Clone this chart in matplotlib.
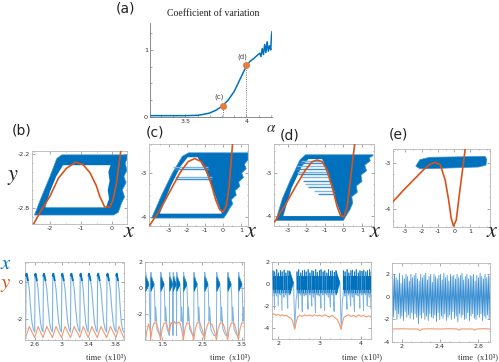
import numpy as np
import matplotlib
matplotlib.use("Agg")
import matplotlib.pyplot as plt
from matplotlib.ticker import MultipleLocator

plt.rcParams['axes.unicode_minus'] = False
plt.rcParams['mathtext.fontset'] = 'stix'

BLUE = '#0072BD'
LBLUE = '#7db4e2'
MBLUE = '#3a8fd2'
ORANGE = '#D95319'
LORANGE = '#f09a74'

# ---------------- data ----------------
# (a) coefficient of variation
cv_alpha = [3.21, 3.5, 3.6, 3.65, 3.7, 3.75, 3.8, 3.85, 3.9, 3.95, 4.0, 4.03, 4.06, 4.09,
            4.11, 4.12, 4.13, 4.14, 4.15, 4.16, 4.17, 4.18, 4.19, 4.2, 4.205, 4.21]
cv_value = [0.02, 0.02, 0.025, 0.04, 0.06, 0.1, 0.16, 0.25, 0.38, 0.57, 0.76, 0.83, 0.87, 0.92,
            0.95, 0.9, 1.02, 0.93, 1.08, 0.96, 1.12, 0.98, 1.06, 1.0, 1.2, 1.27]
mark_alpha = [3.81, 4.0]
mark_cv = [0.17, 0.77]
mark_labels = ['(c)', '(d)']

# nullclines (orange curves) of the phase portraits
b_null_x = [-2.53, -2.27, -2.0, -1.73, -1.47, -1.17, -0.93, -0.71, -0.5, -0.4, -0.24, -0.07, 0.03, 0.14, 0.21, 0.28]
b_null_y = [-2.98, -2.82, -2.67, -2.47, -2.36, -2.29, -2.32, -2.41, -2.56, -2.67, -2.79, -2.79, -2.71, -2.53, -2.34, -2.17]
c_null_x = [-4.09, -3.5, -2.94, -2.39, -1.93, -1.56, -1.19, -0.91, -0.63, -0.39, -0.17, 0.02, 0.2, 0.35, 0.44, 0.54]
c_null_y = [-4.2, -3.84, -3.42, -3.0, -2.74, -2.67, -2.74, -2.93, -3.27, -3.61, -3.83, -3.88, -3.73, -3.31, -2.86, -2.34]
d_null_x = [-3.71, -3.14, -2.59, -2.05, -1.69, -1.42, -1.15, -0.88, -0.61, -0.34, -0.16, 0.02, 0.2, 0.38, 0.5, 0.61]
d_null_y = [-4.13, -3.74, -3.32, -2.93, -2.74, -2.7, -2.74, -2.93, -3.32, -3.78, -3.99, -4.02, -3.78, -3.16, -2.7, -2.33]
e_null_x = [-3.75, -3.1, -2.49, -1.88, -1.47, -1.16, -0.85, -0.55, -0.34, -0.18, -0.04, 0.13, 0.33, 0.54, 0.68]
e_null_y = [-3.84, -3.59, -3.37, -3.15, -3.03, -2.99, -3.04, -3.37, -3.8, -4.2, -4.37, -4.24, -3.66, -3.08, -2.7]

# blue trajectory regions (outline, hole)
b_outer_x = [-2.5, 0.05, 0.2, 0.3, 0.4, 0.33, 0.45, 0.38, 0.48, 0.42, 0.48, 0.48, -1.62, -1.78, -2.0, -2.3, -2.5]
b_outer_y = [-2.88, -2.88, -2.85, -2.75, -2.68, -2.6, -2.52, -2.45, -2.38, -2.3, -2.26, -2.21, -2.21, -2.25, -2.45, -2.7, -2.88]
b_hole_x = [-2.15, -0.2, -0.1, -0.14, -0.08, -0.12, -0.05, -1.58, -1.8, -2.0, -2.15]
b_hole_y = [-2.795, -2.795, -2.7, -2.6, -2.5, -2.4, -2.325, -2.325, -2.45, -2.62, -2.795]

c_outer_x = [-3.95, 0.05, 0.25, 0.38, 0.55, 0.48, 0.75, 0.68, 0.95, 0.88, 1.15, 1.05, 1.3, 1.2, 1.4, 1.4, -1.9, -2.25, -2.8, -3.4, -3.95]
c_outer_y = [-4.02, -4.02, -3.9, -3.8, -3.7, -3.6, -3.5, -3.4, -3.3, -3.2, -3.1, -3.0, -2.9, -2.8, -2.7, -2.54, -2.54, -2.62, -3.0, -3.5, -4.02]
c_hole_x = [-3.5, -0.05, -0.3, -0.6, -1.0, -1.4, -1.95, -2.35, -2.9, -3.5]
c_hole_y = [-3.92, -3.92, -3.65, -3.3, -2.92, -2.64, -2.64, -2.85, -3.3, -3.92]
c_streak_y = [-2.87, -2.91, -3.09, -3.13]
c_streak_x0 = [-2.78, -2.72, -2.67, -2.6]
c_streak_x1 = [-0.8, -0.75, -0.6, -0.58]

d_outer_x = [-3.65, 0.0, 0.2, 0.35, 0.5, 0.45, 0.75, 0.7, 1.0, 0.95, 1.25, 1.15, 1.45, 1.4, 1.6, 1.6, -2.05, -2.35, -2.9, -3.3, -3.65]
d_outer_y = [-4.1, -4.1, -3.95, -3.85, -3.7, -3.55, -3.45, -3.3, -3.2, -3.05, -2.95, -2.82, -2.72, -2.65, -2.6, -2.58, -2.58, -2.7, -3.2, -3.6, -4.1]
d_hole_x = [-3.25, -0.1, -0.4, -0.75, -1.05, -1.15, -1.9, -2.25, -2.8, -3.25]
d_hole_y = [-4.0, -4.0, -3.65, -3.2, -2.8, -2.68, -2.68, -2.85, -3.35, -4.0]
d_streak_y = [-2.72, -2.78, -2.85, -2.9, -2.97, -3.03, -3.1, -3.18, -3.25, -3.33, -3.42, -3.5]
d_streak_x0 = [-2.3, -2.4, -2.5, -2.55, -2.5, -2.45, -2.35, -2.2, -2.05, -1.9, -1.6, -1.4]
d_streak_x1 = [-1.1, -1.05, -1.0, -0.95, -0.9, -0.85, -0.8, -0.75, -0.7, -0.6, -0.5, -0.45]

e_band_x = [-2.35, -2.1, -1.5, 1.9, 2.0, 1.95, 1.5, -1.0, -2.1, -2.35]
e_band_y = [-3.07, -2.93, -2.88, -2.86, -2.92, -3.05, -3.09, -3.12, -3.13, -3.07]

# time series (b): regular relaxation spikes
b_spike_t = [2.325, 2.46, 2.595, 2.72, 2.86, 2.995, 3.13, 3.27, 3.395, 3.53, 3.67, 3.81, 3.925]
b_shape_phase = [0.0, 0.04, 0.1, 0.25, 0.4, 0.55, 0.7, 0.85, 1.0]
b_shape_x = [-2.7, 0.35, 0.45, 0.1, -0.4, -1.4, -2.2, -2.55, -2.7]
b_shape_yphase = [0.0, 0.4, 1.0]
b_shape_y = [-3.0, -2.4, -3.0]

# time series (c): bursts
c_event_t = [0.95, 1.08, 1.21, 1.46, 1.68, 1.77, 1.86, 2.03, 2.29, 2.56, 2.86, 3.14, 3.41, 3.68]
c_tpl_dt = [0.0, 0.008, 0.016, 0.026, 0.036, 0.046, 0.058, 0.07, 0.085, 0.1, 0.115, 0.13, 0.16, 0.2, 0.24]
c_tpl_x = [-3.7, 1.2, -0.1, 0.9, 0.0, 0.7, 0.1, 0.5, 0.25, -0.5, -2.6, -1.5, -3.2, -3.5, -3.7]
c_y_t = [1.07, 1.08, 1.12, 1.16, 1.2, 1.21, 1.25, 1.3, 1.36, 1.42, 1.46, 1.5, 1.55, 1.6, 1.65, 1.68,
         1.72, 1.77, 1.81, 1.86, 1.9, 1.95, 2.0, 2.03, 2.07, 2.12, 2.18, 2.25, 2.29, 2.33, 2.38, 2.45,
         2.52, 2.56, 2.6, 2.66, 2.74, 2.82, 2.86, 2.9, 2.96, 3.03, 3.1, 3.14, 3.18, 3.24, 3.31, 3.37,
         3.41, 3.45, 3.5, 3.55]
c_y_v = [-3.6, -4.05, -3.3, -2.8, -3.3, -4.05, -3.2, -2.7, -2.8, -3.4, -4.05, -3.2, -2.75, -2.7, -3.2, -3.5,
         -2.7, -2.85, -2.62, -2.85, -2.65, -2.75, -3.4, -4.05, -3.2, -2.7, -2.8, -3.5, -4.05, -3.2, -2.7, -2.75,
         -3.4, -4.05, -3.2, -2.7, -2.8, -3.5, -4.05, -3.2, -2.7, -2.8, -3.5, -4.05, -3.2, -2.7, -2.8, -3.5,
         -4.05, -3.2, -2.7, -2.75]

# time series (d): dense bursts with two deep dips
d_spike_t = [1.87, 1.91, 1.96, 2.0, 2.05, 2.09, 2.14, 2.18, 2.23, 2.27,
             2.45, 2.49, 2.54, 2.58, 2.63, 2.67, 2.72, 2.76, 2.81, 2.85, 2.9, 2.94, 2.99, 3.03,
             3.08, 3.12, 3.17, 3.21, 3.26, 3.3, 3.35, 3.39,
             3.57, 3.61, 3.66, 3.7, 3.75, 3.79, 3.84, 3.88, 3.93, 3.97, 4.02, 4.06, 4.11, 4.15, 4.2, 4.24]
d_spike_low = [-1.0, -2.3, -1.1, -2.0, -1.0, -2.4, -1.2, -1.0, -2.2, -1.0,
               -1.0, -2.2, -1.0, -2.5, -1.1, -1.0, -2.3, -1.0, -2.0, -1.2, -2.6, -1.0, -1.1, -2.2,
               -1.0, -2.4, -1.0, -1.2, -2.1, -1.0, -2.5, -1.0,
               -1.0, -1.1, -2.3, -1.0, -2.0, -1.2, -2.5, -1.0, -1.1, -2.2, -1.0, -2.4, -1.0, -2.0, -1.2, -2.3]
d_spike_high = [1.2, 1.1, 1.3, 1.0, 1.2, 1.1, 1.25, 1.0, 1.2, 1.15,
                1.1, 1.3, 1.0, 1.2, 1.25, 1.1, 1.3, 1.0, 1.2, 1.15, 1.3, 1.05, 1.2, 1.3,
                1.1, 1.2, 1.0, 1.3, 1.15, 1.2, 1.05, 1.2,
                1.2, 1.1, 1.3, 1.0, 1.2, 1.25, 1.1, 1.3, 1.0, 1.2, 1.15, 1.25, 1.1, 1.2, 1.3, 1.1]
d_dip_t = [2.40, 3.52]
d_dip_x = [-4.0, -4.1]
d_y_t = [1.85, 1.9, 1.95, 2.0, 2.05, 2.1, 2.15, 2.2, 2.25, 2.3, 2.34, 2.37, 2.4, 2.43, 2.47, 2.52,
         2.58, 2.64, 2.7, 2.76, 2.82, 2.88, 2.94, 3.0, 3.06, 3.12, 3.18, 3.24, 3.3, 3.36, 3.42, 3.46,
         3.49, 3.52, 3.55, 3.59, 3.64, 3.7, 3.76, 3.82, 3.88, 3.94, 4.0, 4.06, 4.12, 4.18, 4.24]
d_y_v = [-2.8, -2.7, -2.85, -2.75, -2.9, -2.8, -2.9, -2.85, -3.0, -3.1, -3.3, -3.7, -4.1, -3.5, -3.0, -2.85,
         -2.95, -2.8, -2.9, -2.82, -2.92, -2.8, -2.9, -2.85, -2.95, -2.8, -2.9, -3.0, -2.85, -3.05, -3.2, -3.5,
         -3.8, -4.1, -3.5, -3.0, -2.9, -2.8, -2.95, -2.85, -3.0, -2.8, -2.95, -2.85, -3.0, -2.9, -2.95]

# time series (e): irregular fast oscillation
e_x_vals = [-1.6, 1.9, -1.8, 2.0, -1.2, 1.7, -2.0, 1.5, -1.5, 2.1, -1.9, 1.2, -1.7, 1.9, -2.1, 1.6,
            -1.3, 2.0, -1.8, 1.8, -1.6, 1.4, -1.9, 2.0, -1.4, 1.7, -2.0, 1.9, -1.5, 2.1, -1.8, 1.6,
            -2.4, 1.4, -1.6, 2.0, -1.9, 1.7, -1.4, 1.9, -2.0, 2.1, -1.7, 1.5, -2.1, 1.8, -1.5, 2.0,
            -1.8, 1.3, -1.9, 2.0, -1.6, 1.8, -2.2, 1.6, -1.4, 1.9, -2.0, 2.0, -1.7, 1.5, -1.9, 2.1,
            -1.5, 1.7, -2.1, 1.9, -1.8, 1.4, -1.6, 2.0, -2.0, 1.8, -1.3, 1.9, -1.9, 1.6, -1.7, 2.0,
            -2.2, 1.7, -1.5, 1.9, -1.8, 2.1, -1.6, 1.5, -2.0, 1.8, -1.9, 2.0, -1.4, 1.6, -2.1, 1.9,
            -1.7, 1.8, -1.5, 2.0, -1.9, 1.4, -2.0, 1.9, -1.6, 1.7, -1.8, 2.1, -1.5, 1.8, -2.1, 1.6,
            -1.7, 2.0, -1.9, 1.7, -1.6, 1.9, -2.0, 1.8]
e_t_start, e_t_end = 1.9, 2.92
e_y_t = [1.9, 2.0, 2.1, 2.17, 2.19, 2.21, 2.3, 2.4, 2.5, 2.58, 2.6, 2.62, 2.7, 2.74, 2.76, 2.78, 2.85, 2.92]
e_y_v = [-2.85, -2.83, -2.85, -2.85, -3.0, -2.85, -2.83, -2.85, -2.82, -2.85, -2.95, -2.84, -2.85, -2.84, -2.95, -2.85, -2.82, -2.85]

# ---------------- figure ----------------
W, H = 499, 362
fig = plt.figure(figsize=(W / 100, H / 100), dpi=100)


def add_ax(l, r, t, b):
    return fig.add_axes([l / W, 1 - b / H, (r - l) / W, (b - t) / H])


def ftext(px, py, s, **kw):
    fig.text(px / W, 1 - py / H, s, ha='center', va='center', **kw)


def style_box(ax):
    for sp in ax.spines.values():
        sp.set_color('#b5b5b5')
        sp.set_linewidth(0.6)
    ax.tick_params(which='both', direction='in', top=True, right=True, width=0.4,
                   colors='#666666', labelcolor='#333333', labelsize=4.6, pad=1.5)
    ax.tick_params(which='major', length=2)
    ax.tick_params(which='minor', length=1)


# (a)
axa = add_ax(150, 272, 23, 117)
axa.plot(cv_alpha, cv_value, color=BLUE, lw=1.1, zorder=2)
for a, v in zip(mark_alpha, mark_cv):
    axa.plot([a, a], [0, v], ls=':', color='#555555', lw=0.6, zorder=1)
axa.plot(mark_alpha, mark_cv, 'o', color='#E87A3C', ms=4, zorder=3)
for a, v, s in zip(mark_alpha, mark_cv, mark_labels):
    axa.text(a - 0.03, v + 0.08, s, fontsize=5, color='#444444', ha='center', va='bottom')
axa.set_xlim(3.21, 4.21)
axa.set_ylim(0, 1.4)
axa.set_xticks([3.5, 4])
axa.set_xticklabels(['3.5', '4'])
axa.set_yticks([0, 1])
axa.set_yticklabels(['0', '1'])
axa.xaxis.set_minor_locator(MultipleLocator(0.1))
axa.yaxis.set_minor_locator(MultipleLocator(0.25))
for s in ['top', 'right']:
    axa.spines[s].set_visible(False)
for s in ['left', 'bottom']:
    axa.spines[s].set_color('#777777')
    axa.spines[s].set_linewidth(0.6)
axa.tick_params(which='both', direction='in', width=0.4, colors='#666666',
                labelcolor='#333333', labelsize=4.6, pad=1.5)
axa.tick_params(which='major', length=2.5)
axa.tick_params(which='minor', length=1.5)
ftext(126, 8, '(a)', fontsize=10, color='#222222')
ftext(213, 14, 'Coefficient of variation', fontsize=7, family='Liberation Serif', color='#222222')
ftext(271, 127, r'$\alpha$', fontsize=11, color='#333333')


def phase(ax, ox, oy, hx, hy, nx, ny, sy=None, s0=None, s1=None):
    ax.fill(ox, oy, color=BLUE, lw=0.5, ec=MBLUE, zorder=1)
    if hx is not None:
        ax.fill(hx, hy, color='white', lw=0, zorder=2)
    if sy is not None:
        for k, (yy, a0, a1) in enumerate(zip(sy, s0, s1)):
            ax.plot([a0, a1], [yy, yy], color=(MBLUE if k % 2 else LBLUE), lw=1.0, zorder=3,
                    solid_capstyle='butt')
    ax.plot(nx, ny, color=ORANGE, lw=1.2, zorder=4)
    style_box(ax)


# (b) phase
axb = add_ax(32, 127, 151, 224)
phase(axb, b_outer_x, b_outer_y, b_hole_x, b_hole_y, b_null_x, b_null_y)
axb.set_xlim(-2.58, 0.48)
axb.set_ylim(-2.98, -2.167)
axb.set_xticks([-2, -1, 0])
axb.set_yticks([-2.2, -2.8])
axb.set_yticklabels(['-2.2', '-2.8'])
axb.xaxis.set_minor_locator(MultipleLocator(0.5))
axb.yaxis.set_minor_locator(MultipleLocator(0.1))

# (c) phase
axc = add_ax(149, 248, 144, 226)
phase(axc, c_outer_x, c_outer_y, c_hole_x, c_hole_y, c_null_x, c_null_y,
      c_streak_y, c_streak_x0, c_streak_x1)
axc.set_xlim(-4.1, 1.4)
axc.set_ylim(-4.2, -2.34)
axc.set_xticks([-3, -2, -1, 0, 1])
axc.set_yticks([-3, -4])
axc.xaxis.set_minor_locator(MultipleLocator(0.5))
axc.yaxis.set_minor_locator(MultipleLocator(0.25))

# (d) phase
axd = add_ax(274, 374, 144, 226)
phase(axd, d_outer_x, d_outer_y, d_hole_x, d_hole_y, d_null_x, d_null_y,
      d_streak_y, d_streak_x0, d_streak_x1)
axd.set_xlim(-3.75, 1.65)
axd.set_ylim(-4.23, -2.33)
axd.set_xticks([-3, -2, -1, 0, 1])
axd.set_yticks([-3, -4])
axd.xaxis.set_minor_locator(MultipleLocator(0.5))
axd.yaxis.set_minor_locator(MultipleLocator(0.25))

# (e) phase
axe = add_ax(393, 490, 149, 227)
phase(axe, e_band_x, e_band_y, None, None, e_null_x, e_null_y)
axe.set_xlim(-3.75, 2.2)
axe.set_ylim(-4.39, -2.7)
axe.set_xticks([-3, -2, -1, 0, 1])
axe.set_yticks([-3, -4])
axe.xaxis.set_minor_locator(MultipleLocator(0.5))
axe.yaxis.set_minor_locator(MultipleLocator(0.25))

for (px, py, s) in [(22, 131, '(b)'), (155, 133, '(c)'), (290, 136, '(d)'), (398, 135, '(e)')]:
    ftext(px, py, s, fontsize=10, color='#222222')
for px in [129, 251, 375, 492]:
    ftext(px, 231, r'$x$', fontsize=16, color='#222222')
ftext(13, 177, r'$y$', fontsize=16, color='#222222')

# ---------------- time series ----------------
# (b)
axtb = add_ax(25, 124, 262, 340)
tb, xb, yb_t, yb = [], [], [], []
for i in range(len(b_spike_t) - 1):
    t0, t1 = b_spike_t[i], b_spike_t[i + 1]
    P = t1 - t0
    for ph, v in zip(b_shape_phase[:-1], b_shape_x[:-1]):
        tb.append(t0 + ph * P)
        xb.append(v)
    for ph, v in zip(b_shape_yphase[:-1], b_shape_y[:-1]):
        yb_t.append(t0 + ph * P)
        yb.append(v)
    axtb.plot([t0 + b_shape_phase[1] * P, t0 + b_shape_phase[2] * P, t0 + b_shape_phase[3] * P],
              b_shape_x[1:4], color=BLUE, lw=1.3, zorder=3)
tb.append(b_spike_t[-1]); xb.append(b_shape_x[0])
yb_t.append(b_spike_t[-1]); yb.append(b_shape_y[0])
axtb.plot(tb, xb, color=LBLUE, lw=0.8, zorder=2)
axtb.plot(yb_t, yb, color=LORANGE, lw=0.8, zorder=2)
axtb.set_xlim(2.45, 3.93)
axtb.set_ylim(-3.13, 1.08)
axtb.set_xticks([2.6, 3, 3.4, 3.8])
axtb.set_xticklabels(['2.6', '3', '3.4', '3.8'])
axtb.set_yticks([0, -2])
axtb.xaxis.set_minor_locator(MultipleLocator(0.1))
axtb.yaxis.set_minor_locator(MultipleLocator(0.5))
style_box(axtb)

# (c)
axtc = add_ax(145, 244, 262, 340)
tc, xc = [], []
for i, t0 in enumerate(c_event_t):
    t1 = c_event_t[i + 1] if i + 1 < len(c_event_t) else t0 + 1.0
    for dt, v in zip(c_tpl_dt, c_tpl_x):
        if t0 + dt < t1:
            tc.append(t0 + dt)
            xc.append(v)
    tri_end = min(t0 + 0.09, t1 - 0.005)
    axtc.fill([t0 + 0.008, tri_end, t0 + 0.008], [0.85, 0.25, -0.3], color=BLUE, lw=0.3, zorder=3)
axtc.plot(tc, xc, color=LBLUE, lw=0.7, zorder=2)
axtc.plot(c_y_t, c_y_v, color=LORANGE, lw=0.8, zorder=2)
axtc.set_xlim(1.07, 3.55)
axtc.set_ylim(-4.05, 2)
axtc.set_xticks([1.5, 2.5, 3.5])
axtc.set_yticks([2, 0, -2])
axtc.xaxis.set_minor_locator(MultipleLocator(0.25))
axtc.yaxis.set_minor_locator(MultipleLocator(1))
style_box(axtc)

# (d)
axtd = add_ax(272, 371, 262, 339)
pts = []
for t0, lo, hi in zip(d_spike_t, d_spike_low, d_spike_high):
    seg_t = [t0, t0 + 0.004, t0 + 0.012, t0 + 0.02, t0 + 0.03]
    seg_x = [lo, hi, -0.5, 0.7, -0.8]
    pts += list(zip(seg_t, seg_x))
    axtd.plot(seg_t[1:], seg_x[1:], color=BLUE, lw=0.6, zorder=3)
for tdip, xdip in zip(d_dip_t, d_dip_x):
    pts += [(tdip - 0.08, 0.6), (tdip - 0.03, 0.1), (tdip, xdip), (tdip + 0.03, -1.5)]
    axtd.fill([tdip - 0.12, tdip - 0.03, tdip - 0.12], [1.2, 0.1, -1.0], color=BLUE, lw=0.3, zorder=3)
pts.sort()
axtd.plot([p[0] for p in pts], [p[1] for p in pts], color=LBLUE, lw=0.7, zorder=2)
axtd.plot(d_y_t, d_y_v, color=LORANGE, lw=0.8, zorder=2)
axtd.set_xlim(1.85, 4.24)
axtd.set_ylim(-5, 2)
axtd.set_xticks([2, 3, 4])
axtd.set_yticks([2, 0, -2, -4])
axtd.xaxis.set_minor_locator(MultipleLocator(0.25))
axtd.yaxis.set_minor_locator(MultipleLocator(1))
style_box(axtd)

# (e)
axte = add_ax(392, 490, 263, 342)
te = np.linspace(e_t_start, e_t_end, len(e_x_vals))
axte.plot(te, e_x_vals, color=MBLUE, lw=0.55, zorder=2)
axte.plot(e_y_t, e_y_v, color=LORANGE, lw=0.8, zorder=2)
axte.set_xlim(1.9, 2.92)
axte.set_ylim(-4, 3)
axte.set_xticks([2, 2.4, 2.8])
axte.set_xticklabels(['2', '2.4', '2.8'])
axte.set_yticks([2, 0, -2, -4])
axte.xaxis.set_minor_locator(MultipleLocator(0.1))
axte.yaxis.set_minor_locator(MultipleLocator(1))
style_box(axte)

for px in [106, 230, 362, 478]:
    ftext(px, 357, 'time  (x10³)', fontsize=6, family='Liberation Serif', color='#333333')
ftext(6, 263, r'$x$', fontsize=15, color=BLUE)
ftext(6, 284, r'$y$', fontsize=15, color=ORANGE)

fig.savefig('out.png', dpi=100)
